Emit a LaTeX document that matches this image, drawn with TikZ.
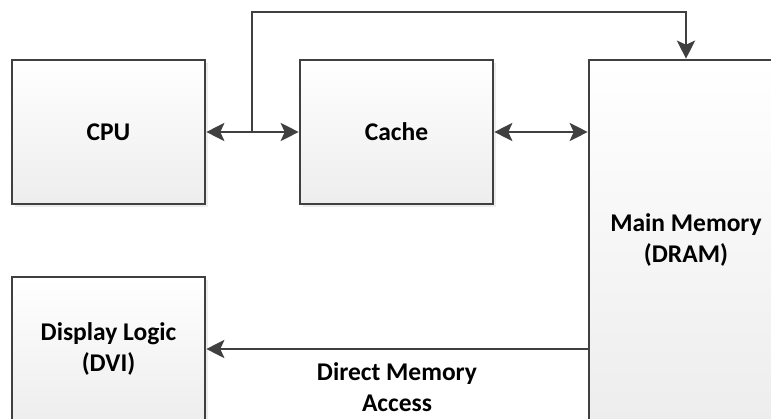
\documentclass[tikz,border=0pt]{standalone}
\usepackage{fontspec}
\setmainfont{Carlito}
\usetikzlibrary{arrows.meta,shadows,calc}
\definecolor{linegray}{HTML}{404040}
\begin{document}
\begin{tikzpicture}[x=1pt,y=-1pt,
  blockbox/.style={draw=linegray, line width=2.6pt, top color=white, bottom color=black!7,
    minimum width=193pt, minimum height=144pt, inner sep=0pt, align=center,
    font=\fontsize{25.5}{31}\selectfont\bfseries,
    drop shadow={shadow xshift=3pt, shadow yshift=-3pt, fill=black!12, opacity=0.6}},
  conn/.style={draw=linegray, line width=2.8pt},
  tip/.style={-{Stealth[length=18pt,width=18pt,inset=4pt]}},
  lbl/.style={font=\fontsize{25.5}{31}\selectfont\bfseries, align=center, inner sep=0pt}
]
\useasboundingbox (0,0) rectangle (771,419);
\begin{scope}
\clip (0,0) rectangle (771,419);
\node[blockbox] (cpu) at (108.5,132) {CPU};
\node[blockbox] (cache) at (396.5,132) {Cache};
\node[blockbox, minimum width=194pt, minimum height=360pt] (mem) at (686,240) {Main Memory\\(DRAM)};
\node[blockbox] (disp) at (108.5,349) {Display Logic\\(DVI)};

\coordinate (br) at (252,132);
\coordinate (top) at (252,12);

\draw[conn, tip] (br) -- (cpu.east);
\draw[conn, tip] (br) -- (cache.west);
\draw[conn, tip] (br) -- (top) -| (mem.north);
\draw[conn, {Stealth[length=18pt,width=18pt,inset=4pt]}-{Stealth[length=18pt,width=18pt,inset=4pt]}] (cache.east) -- (mem.west |- cache.east);
\coordinate (dmastart) at (mem.west |- disp.east);
\draw[conn, tip] (dmastart) -- (disp.east) node[lbl, midway, below=12pt] (dma) {Direct Memory\\Access};
\end{scope}
\end{tikzpicture}
\end{document}
